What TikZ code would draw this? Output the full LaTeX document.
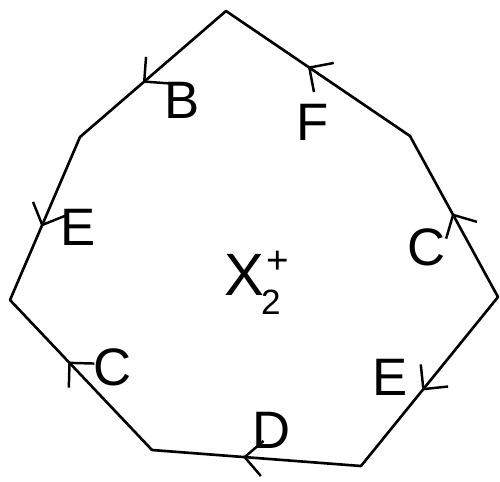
\documentclass[tikz,border=0pt]{standalone}
\usepackage{fontspec}
\setmainfont{Liberation Sans}
\usetikzlibrary{decorations.markings,arrows.meta}
\tikzset{
  edge/.style={line width=1.5pt, line cap=round, line join=round},
  arrowat/.style={postaction={decorate},decoration={markings,mark=at position #1 with {\arrow{Straight Barb[length=10pt,width=20pt,line width=1.4pt]}}}},
  lab/.style={font=\fontsize{30}{34}\selectfont, inner sep=0pt}
}
\begin{document}
\begin{tikzpicture}[x=0.02cm,y=-0.02cm]
\useasboundingbox (0,0) rectangle (500,481);
\coordinate (T) at (226,11);
\coordinate (UR) at (410,136);
\coordinate (R) at (498,297);
\coordinate (BR) at (361,466);
\coordinate (BL) at (152,450);
\coordinate (L) at (10,300);
\coordinate (UL) at (80,137);
\draw[edge,arrowat=0.57] (T) -- (UL);
\draw[edge,arrowat=0.555] (UR) -- (T);
\draw[edge,arrowat=0.52] (R) -- (UR);
\draw[edge,arrowat=0.555] (R) -- (BR);
\draw[edge,arrowat=0.565] (BR) -- (BL);
\draw[edge,arrowat=0.59] (BL) -- (L);
\draw[edge,arrowat=0.55] (UL) -- (L);
\node[lab] (lB) at (182,100) {B};
\node[lab] (lF) at (313,122) {F};
\node[lab] (lE1) at (78,227) {E};
\node[lab] (lC1) at (427,247) {C};
\node[lab] (lX) at (257,283) {\fontsize{34}{36}\selectfont X\kern-2pt\rlap{\raisebox{-11pt}{\fontsize{20}{20}\selectfont 2}}\kern3pt\raisebox{12pt}{\fontsize{22}{22}\selectfont +}};
\node[lab] (lC2) at (113,367) {C};
\node[lab] (lE2) at (390,377) {E};
\node[lab] (lD) at (272,430) {D};
\end{tikzpicture}
\end{document}
